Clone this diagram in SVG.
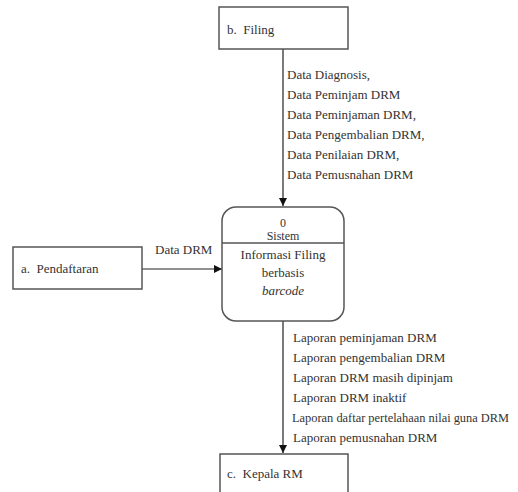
<svg xmlns="http://www.w3.org/2000/svg" width="518" height="492" viewBox="0 0 518 492">
<style>
text{font-family:"Liberation Serif","Times New Roman",Times,serif;font-size:13px;fill:#333;white-space:pre}
text.s{font-size:12px}
text.m{font-size:12.4px}
.box{fill:#fff;stroke:#555;stroke-width:1.5}
.c{text-anchor:middle}
.conn{stroke:#222;stroke-width:1.2;fill:none}
</style>
<defs>
<marker id="arr" viewBox="0 0 10 10" refX="10" refY="5" markerWidth="8" markerHeight="8" markerUnits="userSpaceOnUse" orient="auto">
<path d="M0,0 L10,5 L0,10 z" fill="#111"/>
</marker>
</defs>
<rect width="518" height="492" fill="#fff"/>
<g id="connectors">
<line class="conn" x1="283" y1="49" x2="283" y2="206" marker-end="url(#arr)"/>
<line class="conn" x1="142" y1="269" x2="222" y2="269" marker-end="url(#arr)"/>
<line class="conn" x1="283" y1="321" x2="283" y2="453" marker-end="url(#arr)"/>
<g id="label-filing">
<text x="287" y="79">Data Diagnosis,</text>
<text x="287" y="99">Data Peminjam DRM</text>
<text x="287" y="119">Data Peminjaman DRM,</text>
<text x="287" y="139">Data Pengembalian DRM,</text>
<text x="287" y="159">Data Penilaian DRM,</text>
<text x="287" y="179">Data Pemusnahan DRM</text>
</g>
<text x="155" y="254">Data DRM</text>
<g id="label-kepala">
<text x="293" y="342">Laporan peminjaman DRM</text>
<text x="293" y="362">Laporan pengembalian DRM</text>
<text x="293" y="382">Laporan DRM masih dipinjam</text>
<text x="293" y="402">Laporan DRM inaktif</text>
<text class="m" x="292" y="422">Laporan daftar pertelahaan nilai guna DRM</text>
<text x="293" y="442">Laporan pemusnahan DRM</text>
</g>
</g>
<g id="filing">
<rect class="box" x="219" y="7" width="129" height="42"/>
<text x="227" y="34">b.  Filing</text>
</g>
<g id="pendaftaran">
<rect class="box" x="13" y="247" width="129" height="42"/>
<text x="21" y="273">a.  Pendaftaran</text>
</g>
<g id="sistem">
<rect class="box" x="222" y="207" width="122" height="114" rx="14" ry="14"/>
<line x1="222" y1="243" x2="344" y2="243" stroke="#555" stroke-width="1.5"/>
<text class="c s" x="283" y="227">0</text>
<text class="c s" x="283" y="240">Sistem</text>
<text class="c" x="283" y="259">Informasi Filing</text>
<text class="c" x="283" y="277">berbasis</text>
<text class="c" x="283" y="295" font-style="italic">barcode</text>
</g>
<g id="kepala">
<rect class="box" x="220" y="454" width="128" height="45"/>
<text x="227" y="478">c.  Kepala RM</text>
</g>
</svg>
